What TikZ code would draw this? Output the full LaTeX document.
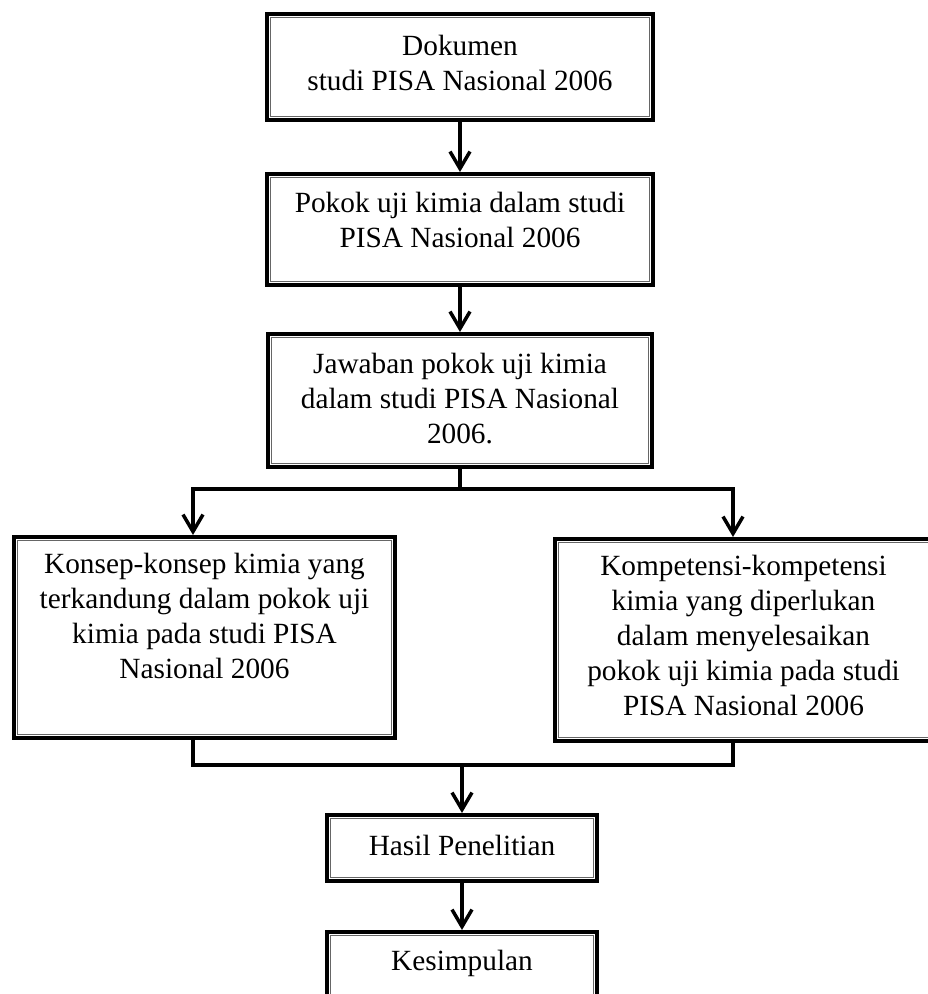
\documentclass[tikz,border=0pt]{standalone}
\usepackage{fontspec}
\setmainfont{Liberation Serif}
\usetikzlibrary{arrows.meta}
\usetikzlibrary{positioning}

\begin{document}
\begin{tikzpicture}[x=1pt,y=-1pt,>={Straight Barb[length=17pt,width=20pt]},line width=3.5pt,
    frame/.style={draw,line width=4pt,inner sep=0pt,
      path picture={\draw[line width=1.2pt,black!60]
        ([shift={(3.5pt,3.5pt)}]path picture bounding box.south west) rectangle
        ([shift={(-3.5pt,-3.5pt)}]path picture bounding box.north east);}},
    txt/.style={align=center,inner sep=0pt,anchor=north,font=\fontsize{29.3}{35}\selectfont}]

      \useasboundingbox (0,0) rectangle (928,994);

      \node[frame,minimum width=386pt,minimum height=106pt] (dok) at (460,67) {};
      \node[frame,minimum width=386pt,minimum height=111pt] (pokok) at (460,229.5) {};
      \node[frame,minimum width=384pt,minimum height=133pt] (jawab) at (460,400.5) {};
      \node[frame,minimum width=381pt,minimum height=201pt] (konsep) at (204.5,637.5) {};
      \node[frame,minimum width=383pt,minimum height=202pt] (komp) at (746.5,640) {};
      \node[frame,minimum width=270pt,minimum height=66pt] (hasil) at (462,848) {};
      \node[frame,minimum width=270pt,minimum height=76pt] (kesimp) at (462,970) {};

      \node[txt,below=21pt of dok.north] (dokt) {Dokumen\\studi PISA Nasional 2006};
      \node[txt,below=18pt of pokok.north] (pokokt) {Pokok uji kimia dalam studi\\PISA Nasional 2006};
      \node[txt,below=19pt of jawab.north] (jawabt) {Jawaban pokok uji kimia\\dalam studi PISA Nasional\\2006.};
      \node[txt,below=16pt of konsep.north] (konsept) {Konsep-konsep kimia yang\\terkandung dalam pokok uji\\kimia pada studi PISA\\Nasional 2006};
      \node[txt,below=16pt of komp.north,xshift=-3pt] (kompt) {Kompetensi-kompetensi\\kimia yang diperlukan\\dalam menyelesaikan\\pokok uji kimia pada studi\\PISA Nasional 2006};
      \node[txt,below=20pt of hasil.north] (hasilt) {Hasil Penelitian};
      \node[txt,below=18pt of kesimp.north] (kesimpt) {Kesimpulan};

      \coordinate (split) at (460,489);
      \coordinate (join) at (462,765);

      \draw[->] (dok) -- (pokok);
      \draw[->] (pokok) -- (jawab);
      \draw (jawab.south) -- (split);
      \draw[->] (split) -| ([xshift=-11.5pt]konsep.north);
      \draw[->] (split) -| ([xshift=-13.5pt]komp.north);
      \draw ([xshift=-11.5pt]konsep.south) |- (join);
      \draw ([xshift=-13.5pt]komp.south) |- (join);
      \draw[->] (join) -- (hasil);
      \draw[->] (hasil) -- (kesimp);
    \end{tikzpicture}
\end{document}
